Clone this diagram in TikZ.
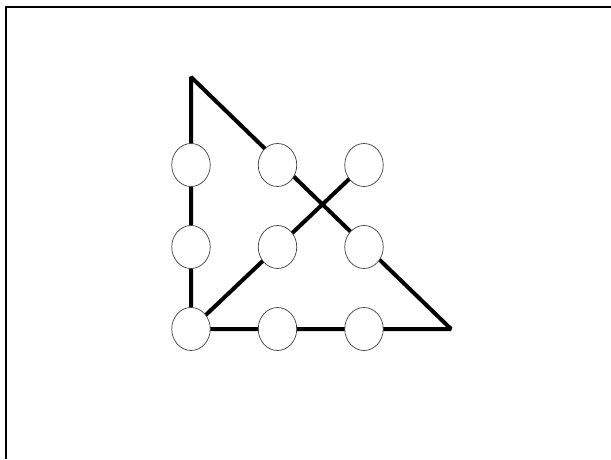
\documentclass[tikz,border=0pt]{standalone}
\usetikzlibrary{shapes.geometric,backgrounds}

\tikzset{
    dot/.style={ellipse, draw=black!75, fill=white, line width=0.7pt,
        minimum width=38.5pt, minimum height=43pt, inner sep=0pt},
    stroke/.style={line width=4pt, line join=bevel}
}

\begin{document}
\begin{tikzpicture}[x=1pt,y=1pt]
    \useasboundingbox (0,0) rectangle (611,459);

    % Define the spacing of the dot grid
    \def\dx{86.5}
    \def\dy{82}

    % Frame (only top and left edges show)
    \draw[line width=2pt, line join=miter] (6,0) -- (6,452) -- (611,452);

    % Nine dots, row i from the top, column j from the left
    \foreach \i in {1,2,3} {
        \foreach \j in {1,2,3} {
            \node[dot] (d\i\j) at ({191+(\j-1)*\dx},{130+(3-\i)*\dy}) {};
        }
    }

    % Four strokes through all dots, behind them
    \begin{scope}[on background layer]
        \coordinate (apex) at (191,382);
        \coordinate (corner) at (451,130);
        \draw[stroke] (d13.center) -- (d31.center) -- (apex) -- (corner) -- (d31.center);
    \end{scope}
\end{tikzpicture}
\end{document}
